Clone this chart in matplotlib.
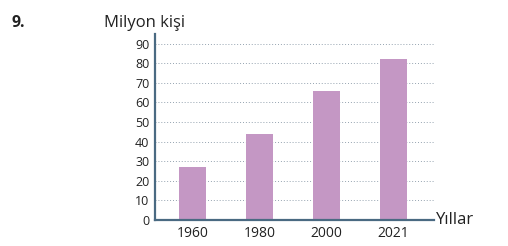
import matplotlib.pyplot as plt
import numpy as np

plt.rcParams['font.family'] = ['Open Sans', 'DejaVu Sans']

years = ["1960", "1980", "2000", "2021"]
population = [27, 44, 66, 82]
y_ticks = [0, 10, 20, 30, 40, 50, 60, 70, 80, 90]

bar_color = "#c497c4"
axis_color = "#4a6a82"

fig = plt.figure(figsize=(5.08, 2.46), dpi=100)
ax = fig.add_axes([0.305, 0.1057, 0.549, 0.756])

x = np.arange(len(years))
ax.bar(x, population, width=0.40, color=bar_color, zorder=3)

ax.set_xlim(-0.56, 3.60)
ax.set_ylim(0, 94.9)
ax.set_xticks(x)
ax.set_xticklabels(years, fontsize=10, color="#222222")
ax.set_yticks(y_ticks)
ax.set_yticklabels([str(v) for v in y_ticks], fontsize=9, color="#222222")
ax.tick_params(axis="both", length=0)
ax.tick_params(axis="x", pad=4)
ax.tick_params(axis="y", pad=4)

# dotted guide lines
for v in y_ticks[1:]:
    ax.axhline(v, color="#95a3b0", linestyle=(0, (1, 2)), linewidth=0.7, zorder=1)

for s in ["top", "right"]:
    ax.spines[s].set_visible(False)
for s in ["left", "bottom"]:
    ax.spines[s].set_color(axis_color)
    ax.spines[s].set_linewidth(1.6)
    ax.spines[s].set_zorder(4)

fig.text(0.285, 0.892, "Milyon kişi", fontsize=12, ha="center", va="baseline", color="#222222")
fig.text(0.858, 0.1057, "Yıllar", fontsize=12, ha="left", va="center", color="#222222")
fig.text(0.022, 0.89, "9.", fontsize=11.5, fontweight="bold", ha="left", va="baseline", color="#222222")

fig.savefig("out.png", dpi=100)
